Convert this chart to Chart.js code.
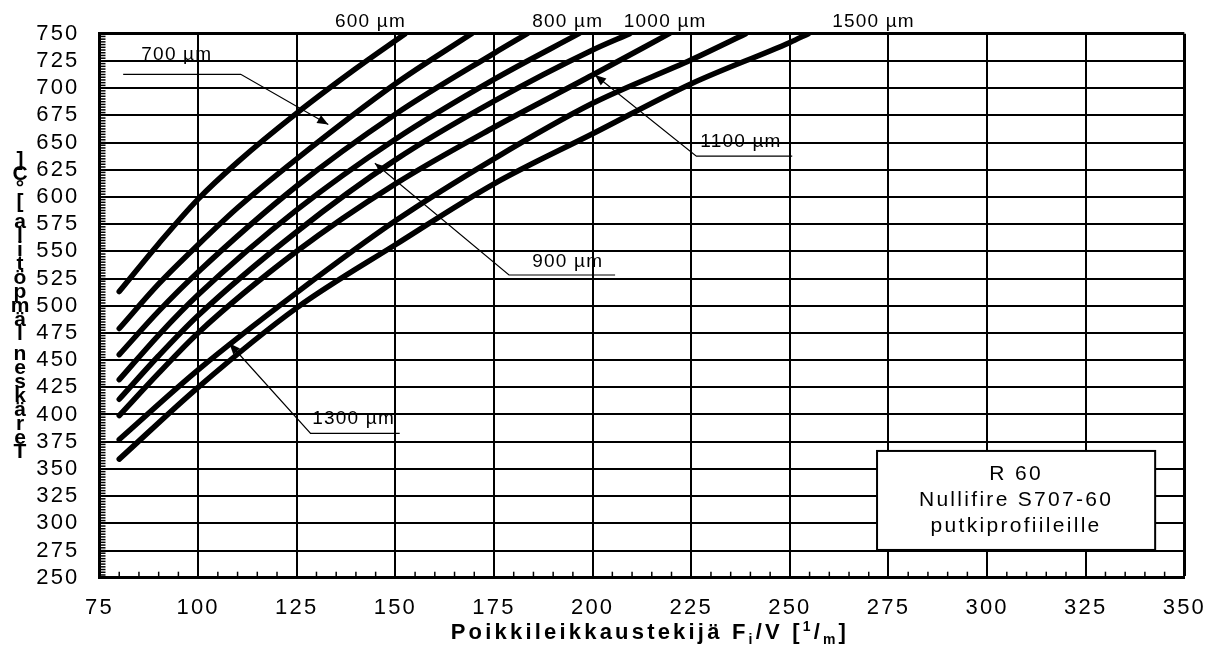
<!DOCTYPE html>
<html>
<head>
<meta charset="utf-8">
<script src="https://cdn.jsdelivr.net/npm/chart.js@4.4.1/dist/chart.umd.min.js"></script>
<style>
  html, body { margin: 0; padding: 0; background: #fff; }
  #wrap { width: 1223px; height: 659px; }
</style>
</head>
<body>
<div id="wrap"><canvas id="chart"></canvas></div>
<script>
// Paksuudet (kuivakalvo)
const seriesNames = ["600 µm", "700 µm", "800 µm", "900 µm", "1000 µm", "1100 µm", "1300 µm", "1500 µm"];

// Poikkileikkaustekijä Fi/V -> teräksen lämpötila
const fv600 = [80, 90, 100, 110, 125, 140, 152.5];
const temp600 = [513, 557, 598, 632, 677, 718, 750];
const fv700 = [80, 90, 100, 110, 125, 150, 169.3];
const temp700 = [479, 520, 556, 590, 635, 704, 750];
const fv800 = [80, 90, 100, 125, 150, 175, 183.4];
const temp800 = [455, 495, 531, 610, 676, 732, 750];
const fv900 = [80, 90, 100, 125, 150, 175, 196.5];
const temp900 = [432, 473, 510, 588, 653, 708, 750];
const fv1000 = [80, 90, 100, 125, 150, 175, 200, 209.4];
const temp1000 = [414, 454, 491, 568, 634, 688, 735, 750];
const fv1100 = [80, 90, 100, 125, 150, 175, 200, 219.4];
const temp1100 = [399, 438, 475, 550, 612, 664, 712, 750];
const fv1300 = [80, 100, 125, 150, 175, 200, 225, 238.8];
const temp1300 = [377, 441, 512, 578, 635, 686, 726, 750];
const fv1500 = [80, 100, 125, 150, 175, 200, 225, 250, 254.7];
const temp1500 = [359, 425, 498, 556, 612, 658, 704, 742, 750];

const allFv = [fv600, fv700, fv800, fv900, fv1000, fv1100, fv1300, fv1500];
const allTemp = [temp600, temp700, temp800, temp900, temp1000, temp1100, temp1300, temp1500];

// Käyrien nimet kaavion yläreunassa (x-arvo)
const topLabels = ["600 µm", "800 µm", "1000 µm", "1500 µm"];
const topLabelFv = [143.7, 193.7, 218.4, 271.2];

// Nuolelliset nimet: teksti, tekstin paikka, viivan pisteet (viimeinen = nuolen kärki)
const leaderLabels = ["700 µm", "900 µm", "1100 µm", "1300 µm"];
const leaderTextAt = [[94.6, 730.4], [193.7, 540.6], [237.6, 651], [139.4, 396.3]];
const leaderPaths = [
  [[81, 712.7], [110.8, 712.7], [133, 666.5]],
  [[205.7, 528.2], [178.8, 528.2], [144.8, 631]],
  [[250.6, 637.5], [226.3, 637.5], [200.6, 712]],
  [[151.1, 382.7], [128.5, 382.7], [107.9, 465.5]]
];

const boxLines = ["R 60", "Nullifire S707-60", "putkiprofiileille"];
const boxCorners = [[272.1, 366.5], [342.6, 275.5]];

const yTitle = "Teräksen lämpötila [°C]";
const FONT = '"Liberation Sans", Arial, sans-serif';

const datasets = seriesNames.map((name, i) => ({
  label: name,
  data: allFv[i].map((v, j) => ({ x: v, y: allTemp[i][j] })),
  borderColor: "#000",
  borderWidth: 5.5,
  borderCapStyle: "round",
  pointRadius: 0,
  showLine: true,
  fill: false,
  cubicInterpolationMode: "monotone"
}));

function arrowHead(ctx, x1, y1, x2, y2) {
  const a = Math.atan2(y2 - y1, x2 - x1);
  const len = 11, w = 4.5;
  ctx.beginPath();
  ctx.moveTo(x2, y2);
  ctx.lineTo(x2 - len * Math.cos(a) + w * Math.sin(a), y2 - len * Math.sin(a) - w * Math.cos(a));
  ctx.lineTo(x2 - len * Math.cos(a) - w * Math.sin(a), y2 - len * Math.sin(a) + w * Math.cos(a));
  ctx.closePath();
  ctx.fill();
}

const decorations = {
  id: "decorations",
  beforeLayout(chart) { chart.ctx.letterSpacing = "2.2px"; },
  beforeDraw(chart) { chart.ctx.letterSpacing = "2.2px"; },
  afterDraw(chart) {
    const { ctx, chartArea } = chart;
    const xs = chart.scales.x, ys = chart.scales.y;
    const px = v => xs.getPixelForValue(v);
    const py = v => ys.getPixelForValue(v);
    ctx.save();
    ctx.strokeStyle = "#000";
    ctx.fillStyle = "#000";

    // väliviivat akseleilla
    ctx.lineWidth = 1.5;
    for (let v = 250; v <= 750; v += 2.5) {
      ctx.beginPath();
      ctx.moveTo(chartArea.left, py(v));
      ctx.lineTo(chartArea.left + 6, py(v));
      ctx.stroke();
    }
    for (let v = 80; v < 350; v += 5) {
      if (v % 25 === 0) continue;
      ctx.beginPath();
      ctx.moveTo(px(v), chartArea.bottom);
      ctx.lineTo(px(v), chartArea.bottom - 6);
      ctx.stroke();
    }

    // nimet
    ctx.font = "19px " + FONT;
    ctx.letterSpacing = "1.2px";
    ctx.textAlign = "center";
    ctx.textBaseline = "middle";
    topLabels.forEach((t, i) => ctx.fillText(t, px(topLabelFv[i]), chartArea.top - 12));

    ctx.lineWidth = 1.2;
    leaderLabels.forEach((t, i) => {
      ctx.fillText(t, px(leaderTextAt[i][0]), py(leaderTextAt[i][1]));
      const pts = leaderPaths[i].map(p => [px(p[0]), py(p[1])]);
      ctx.beginPath();
      ctx.moveTo(pts[0][0], pts[0][1]);
      for (let k = 1; k < pts.length; k++) ctx.lineTo(pts[k][0], pts[k][1]);
      ctx.stroke();
      const n = pts.length;
      arrowHead(ctx, pts[n - 2][0], pts[n - 2][1], pts[n - 1][0], pts[n - 1][1]);
    });

    // selitelaatikko
    const bx1 = px(boxCorners[0][0]), by1 = py(boxCorners[0][1]);
    const bx2 = px(boxCorners[1][0]), by2 = py(boxCorners[1][1]);
    ctx.fillStyle = "#fff";
    ctx.fillRect(bx1, by1, bx2 - bx1, by2 - by1);
    ctx.lineWidth = 2;
    ctx.strokeRect(bx1, by1, bx2 - bx1, by2 - by1);
    ctx.fillStyle = "#000";
    ctx.font = "21px " + FONT;
    ctx.letterSpacing = "2.3px";
    const cx = (bx1 + bx2) / 2, cy = (by1 + by2) / 2;
    boxLines.forEach((t, i) => ctx.fillText(t, cx, cy + (i - 1) * 26));

    // y-akselin otsikko (pystyyn pinotut kirjaimet)
    ctx.font = "bold 21px " + FONT;
    ctx.letterSpacing = "0px";
    ctx.textBaseline = "alphabetic";
    let yy = 458;
    for (const ch of yTitle) {
      if (ch === " ") { yy -= 6; continue; }
      ctx.fillText(ch, 20, yy);
      yy -= 14;
    }

    // x-akselin otsikko, ala- ja yläindeksit
    const parts = [
      ["Poikkileikkaustekijä F", 0, 22],
      ["i", 5, 14],
      ["/V [", 0, 22],
      ["1", -8, 14],
      ["/", 0, 22],
      ["m", 5, 14],
      ["]", 0, 22]
    ];
    ctx.letterSpacing = "3.2px";
    ctx.textAlign = "left";
    let total = 0;
    parts.forEach(p => { ctx.font = "bold " + p[2] + "px " + FONT; total += ctx.measureText(p[0]).width; });
    let tx = (chartArea.left + chartArea.right) / 2 + 8 - total / 2;
    parts.forEach(p => {
      ctx.font = "bold " + p[2] + "px " + FONT;
      ctx.fillText(p[0], tx, 639 + p[1]);
      tx += ctx.measureText(p[0]).width;
    });
    ctx.restore();
  }
};

const edgeWidth = edge => c => (c.tick && c.tick.value === edge ? 3 : 2);

new Chart(document.getElementById("chart"), {
  type: "scatter",
  data: { datasets },
  options: {
    responsive: true,
    maintainAspectRatio: false,
    animation: false,
    events: [],
    layout: { padding: { left: 0, top: 33.7, right: 32.5, bottom: 0 } },
    plugins: { legend: { display: false }, tooltip: { enabled: false } },
    scales: {
      x: {
        type: "linear",
        min: 75, max: 350,
        ticks: { stepSize: 25, autoSkip: false, maxRotation: 0, color: "#000", padding: 17, font: { family: FONT, size: 22 } },
        grid: { color: "#000", lineWidth: edgeWidth(350), drawTicks: false },
        border: { color: "#000", width: 3 },
        afterFit(s) { s.height = 81.3; }
      },
      y: {
        type: "linear",
        min: 250, max: 750,
        ticks: { stepSize: 25, autoSkip: false, color: "#000", padding: 20, font: { family: FONT, size: 22 } },
        grid: { color: "#000", lineWidth: edgeWidth(750), drawTicks: false },
        border: { color: "#000", width: 3 },
        afterFit(s) { s.width = 99.5; }
      }
    }
  },
  plugins: [decorations]
});
</script>
</body>
</html>
